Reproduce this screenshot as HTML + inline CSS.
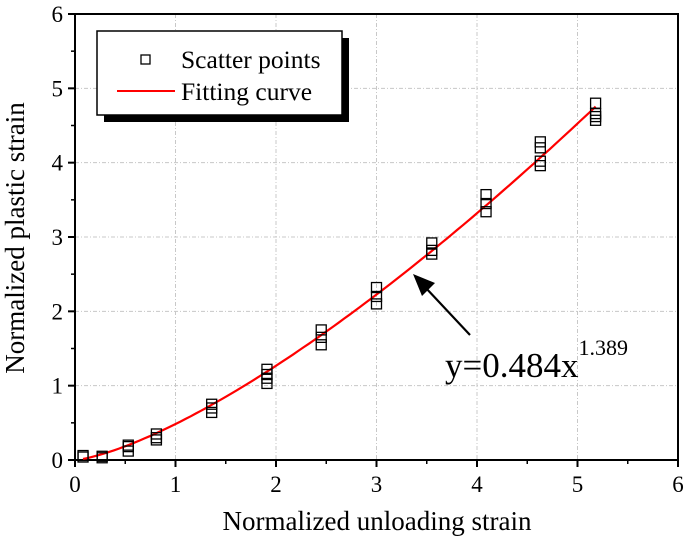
<!DOCTYPE html>
<html><head><meta charset="utf-8"><style>
html,body{margin:0;padding:0;background:#fff;}
svg{display:block;font-family:"Liberation Serif",serif;}
</style></head><body>
<svg id="chart" width="685" height="536">
<g id="grid"></g>
<g id="axes"></g>
<g id="series"></g>
<text x="377" y="530" font-size="27" text-anchor="middle">Normalized unloading strain</text>
<text transform="translate(24,238) rotate(-90)" font-size="27" text-anchor="middle">Normalized plastic strain</text>
<g>
<rect x="104" y="38" width="245" height="84" fill="#000"/>
<rect x="97" y="31" width="245" height="84" fill="#fff" stroke="#000" stroke-width="1.5"/>
<rect x="141" y="55" width="9" height="9" fill="none" stroke="#000" stroke-width="1.3"/>
<text x="181" y="68" font-size="25.5">Scatter points</text>
<line x1="117" y1="91" x2="175" y2="91" stroke="#f00" stroke-width="2"/>
<text x="181" y="100" font-size="25.5">Fitting curve</text>
</g>
<g>
<line x1="470" y1="335" x2="425" y2="287" stroke="#000" stroke-width="2.2"/>
<polygon points="413,274 435,283 422,296" fill="#000"/>
<text x="445" y="377" font-size="35">y=0.484x<tspan dy="-22" font-size="22">1.389</tspan></text>
</g>
</svg>
<script>
const xTicks=[0,1,2,3,4,5,6];
const yTicks=[0,1,2,3,4,5,6];
const xs=[0.08,0.27,0.53,0.81,1.36,1.91,2.45,3.0,3.55,4.09,4.63,5.18];
const ys=[[0.06,0.04],[0.05,0.03],[0.12,0.18,0.2],[0.27,0.3,0.35],[0.64,0.7,0.75],[1.03,1.1,1.15,1.22],[1.55,1.65,1.75],[2.1,2.2,2.32],[2.77,2.82,2.92],[3.34,3.45,3.57],[3.96,4.02,4.2,4.28],[4.57,4.62,4.66,4.8]];
const fitA=0.484, fitB=1.389;
const L=75,R=678,T=14,B=460;
const sx=v=>L+(R-L)*v/6, sy=v=>B-(B-T)*v/6;
const NS="http://www.w3.org/2000/svg";
function mk(p,t,a){const e=document.createElementNS(NS,t);for(const k in a)e.setAttribute(k,a[k]);p.appendChild(e);return e;}
const grid=document.getElementById('grid'),axes=document.getElementById('axes'),ser=document.getElementById('series');
xTicks.forEach(v=>{if(v>0&&v<6){const g=mk(grid,'line',{x1:sx(v),x2:sx(v),y1:T,y2:B,stroke:'#c8c8c8','stroke-dasharray':'4,2,1,2'});

}});
yTicks.forEach(v=>{if(v>0&&v<6){const g=mk(grid,'line',{x1:L,x2:R,y1:sy(v),y2:sy(v),stroke:'#c8c8c8','stroke-dasharray':'4,2,1,2'});

}});
const fr=mk(axes,'rect',{x:L,y:T,width:R-L,height:B-T,fill:'none',stroke:'#000','stroke-width':2});


xTicks.forEach((v,i)=>{mk(axes,'line',{x1:sx(v),x2:sx(v),y1:B,y2:B+7,stroke:'#000','stroke-width':2});
if(i<xTicks.length-1)mk(axes,'line',{x1:sx(v+0.5),x2:sx(v+0.5),y1:B,y2:B+4,stroke:'#000','stroke-width':1.5});
const t=mk(axes,'text',{x:sx(v),y:B+32,'font-size':23,'text-anchor':'middle'});t.textContent=v;

});
yTicks.forEach((v,i)=>{mk(axes,'line',{x1:L-7,x2:L,y1:sy(v),y2:sy(v),stroke:'#000','stroke-width':2});
if(i<yTicks.length-1)mk(axes,'line',{x1:L-4,x2:L,y1:sy(v+0.5),y2:sy(v+0.5),stroke:'#000','stroke-width':1.5});
const t=mk(axes,'text',{x:L-12,y:sy(v)+8,'font-size':23,'text-anchor':'end'});t.textContent=v;

});
let d='';const x0=xs[0],x1=xs[xs.length-1];
for(let i=0;i<=100;i++){const x=x0+(x1-x0)*i/100;d+=(i?'L':'M')+sx(x).toFixed(1)+','+sy(fitA*Math.pow(x,fitB)).toFixed(1);}
const fl=mk(ser,'path',{d:d,fill:'none',stroke:'#f00','stroke-width':2.2});


xs.forEach((x,i)=>ys[i].forEach(y=>{const r=mk(ser,'rect',{x:sx(x)-5,y:sy(y)-5,width:10,height:10,fill:'none',stroke:'#000','stroke-width':1.3});

}));
</script>
</body></html>
